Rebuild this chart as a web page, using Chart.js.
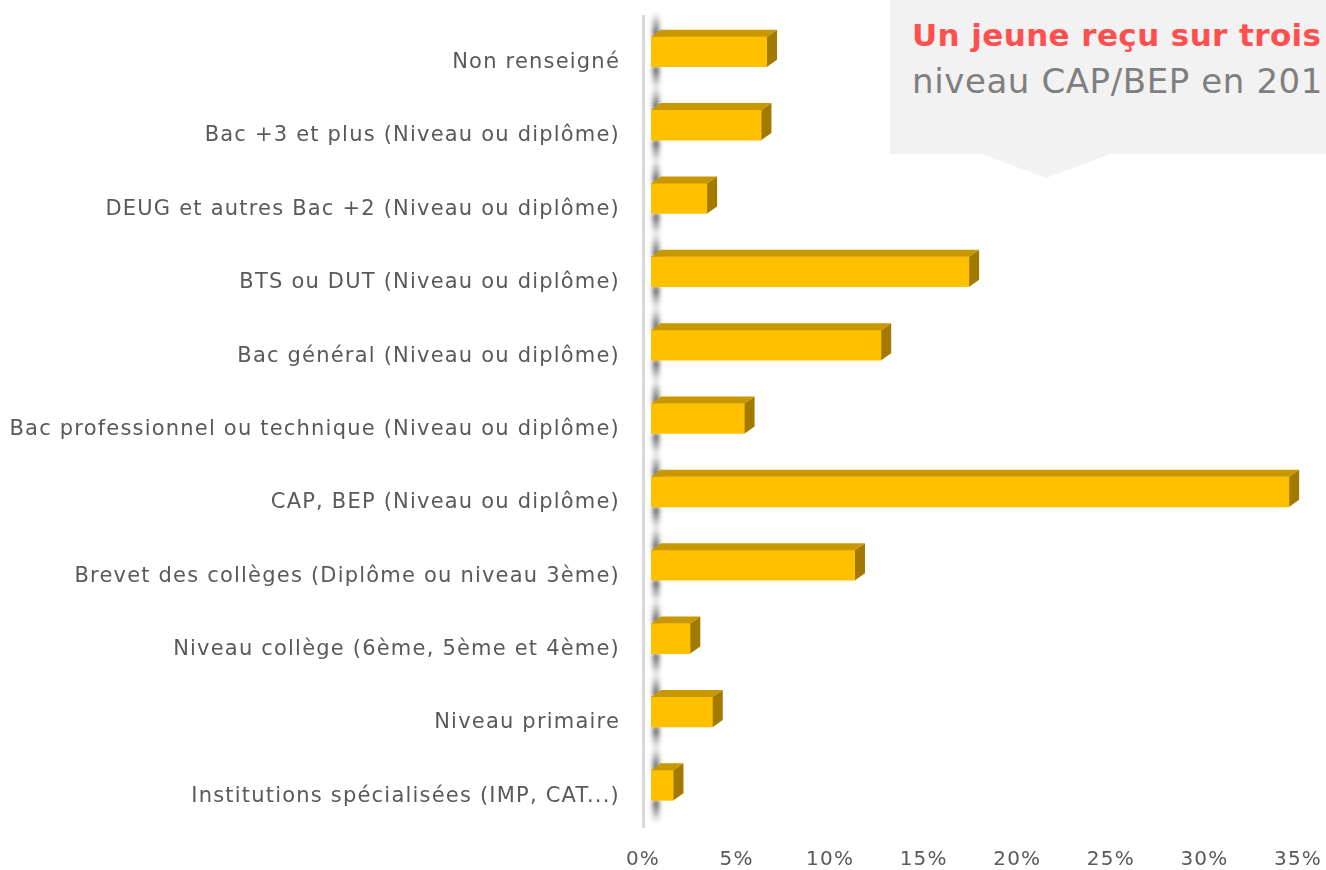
<!DOCTYPE html>
<html><head><meta charset="utf-8">
<script src="https://cdn.jsdelivr.net/npm/chart.js@4"></script>
<style>
html,body{margin:0;padding:0;background:#fff;overflow:hidden;}
#wrap{position:relative;width:1326px;height:870px;}
#box{position:absolute;left:890px;top:0;width:436px;height:154px;background:#f2f2f2;overflow:hidden;white-space:nowrap;}
#tri{position:absolute;left:979px;top:153px;width:134px;height:25px;background:#f2f2f2;clip-path:polygon(0 0,100% 0,50% 100%);}
#l1{position:absolute;left:22px;top:17px;font:bold 31px "DejaVu Sans";color:#ff5050;line-height:36px;letter-spacing:0.4px;}
#l2{position:absolute;left:22px;top:61px;font:34px "DejaVu Sans";color:#7f7f7f;letter-spacing:0.6px;line-height:40px;}
</style></head>
<body><div id="wrap">
<canvas id="c" width="1326" height="870"></canvas>
<div id="box"><div id="l1">Un jeune reçu sur trois</div><div id="l2">niveau CAP/BEP en 201</div></div>
<div id="tri"></div>
</div>
<script>
const categories = [
  "Non renseigné",
  "Bac +3 et plus (Niveau ou diplôme)",
  "DEUG et autres Bac +2 (Niveau ou diplôme)",
  "BTS ou DUT (Niveau ou diplôme)",
  "Bac général (Niveau ou diplôme)",
  "Bac professionnel ou technique (Niveau ou diplôme)",
  "CAP, BEP (Niveau ou diplôme)",
  "Brevet des collèges (Diplôme ou niveau 3ème)",
  "Niveau collège (6ème, 5ème et 4ème)",
  "Niveau primaire",
  "Institutions spécialisées (IMP, CAT...)"
];
const shares = [6.2, 5.9, 3.0, 17.0, 12.3, 5.0, 34.1, 10.9, 2.1, 3.3, 1.2];
const xTicks = [0, 5, 10, 15, 20, 25, 30, 35];

const DX = 10, DY = 7;
const bar3d = {
  id: 'bar3d',
  beforeDatasetsDraw(chart) {
    const ctx = chart.ctx;
    const area = chart.chartArea;
    ctx.save();
    ctx.fillStyle = '#d9d9d9';
    ctx.fillRect(area.left - 9, area.top, 3, area.bottom - area.top + 6);
    const meta = chart.getDatasetMeta(0);
    meta.data.forEach(b => {
      const top = b.y - b.height / 2, bot = b.y + b.height / 2;
      ctx.filter = 'blur(2.5px)';
      let g = ctx.createLinearGradient(0, top - 24, 0, top);
      g.addColorStop(0, 'rgba(40,40,40,0)');
      g.addColorStop(1, 'rgba(40,40,40,0.95)');
      ctx.fillStyle = g;
      ctx.fillRect(area.left + 2, top - 24, 6, 24);
      g = ctx.createLinearGradient(0, bot, 0, bot + 22);
      g.addColorStop(0, 'rgba(40,40,40,0.95)');
      g.addColorStop(1, 'rgba(40,40,40,0)');
      ctx.fillStyle = g;
      ctx.fillRect(area.left + 2, bot, 6, 22);
      ctx.filter = 'none';
    });
    ctx.restore();
  },
  afterDatasetsDraw(chart) {
    const ctx = chart.ctx;
    const meta = chart.getDatasetMeta(0);
    ctx.save();
    meta.data.forEach(b => {
      const top = b.y - b.height / 2, bot = b.y + b.height / 2;
      const l = b.base, r = b.x;
      ctx.fillStyle = '#c99700';
      ctx.beginPath();
      ctx.moveTo(l, top); ctx.lineTo(r, top); ctx.lineTo(r + DX, top - DY); ctx.lineTo(l + DX, top - DY);
      ctx.closePath(); ctx.fill();
      ctx.fillStyle = '#a37a00';
      ctx.beginPath();
      ctx.moveTo(r, top); ctx.lineTo(r + DX, top - DY); ctx.lineTo(r + DX, bot - DY); ctx.lineTo(r, bot);
      ctx.closePath(); ctx.fill();
    });
    ctx.restore();
  }
};

new Chart(document.getElementById('c'), {
  type: 'bar',
  data: {
    labels: categories,
    datasets: [{
      data: shares,
      backgroundColor: '#ffc000',
      borderWidth: 0,
      barThickness: 30
    }]
  },
  options: {
    indexAxis: 'y',
    responsive: false,
    animation: false,
    layout: { padding: { top: 15, right: 20, left: 0, bottom: 0 } },
    plugins: { legend: { display: false }, tooltip: { enabled: false } },
    scales: {
      x: {
        min: 0, max: 35,
        afterBuildTicks(scale) { scale.ticks = xTicks.map(v => ({ value: v })); },
        afterFit(scale) { scale.height = 48; scale.paddingLeft = 0; scale.paddingRight = 0; },
        grid: { display: false, drawTicks: false },
        border: { display: false },
        ticks: {
          callback: v => v + '%',
          color: '#595959',
          font: { family: 'DejaVu Sans', size: 20 },
          padding: 26,
          labelOffset: -8
        }
      },
      y: {
        afterFit(scale) { scale.width = 651; scale.paddingTop = 0; scale.paddingBottom = 0; },
        grid: { display: false, drawTicks: false },
        border: { display: false },
        ticks: {
          color: '#595959',
          font: { family: 'DejaVu Sans', size: 21 },
          padding: 31,
          labelOffset: 11,
          autoSkip: false
        }
      }
    }
  },
  plugins: [bar3d, {
    id: 'spacing',
    beforeDraw(chart) { chart.ctx.letterSpacing = '1.2px'; },
    afterDatasetsDraw(chart) { chart.ctx.letterSpacing = '0px'; }
  }]
});
</script>
</body></html>
